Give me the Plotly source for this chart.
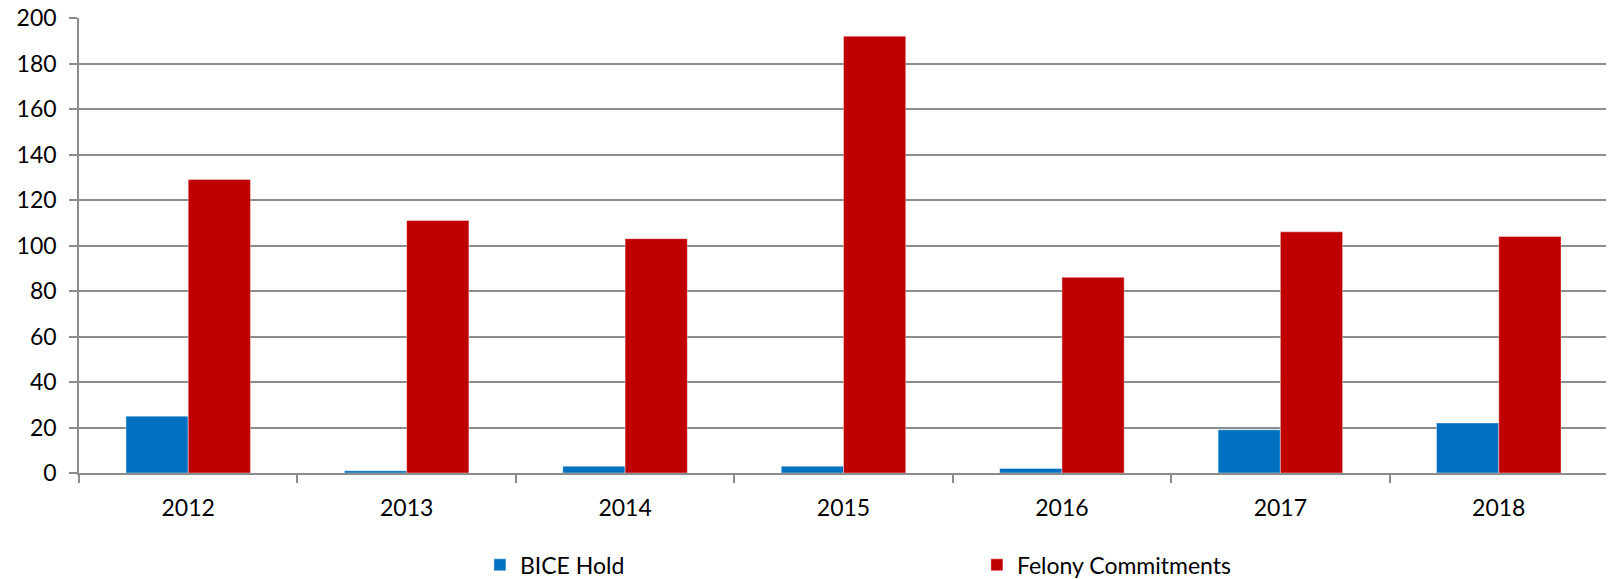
import plotly.graph_objects as go

years = ["2012", "2013", "2014", "2015", "2016", "2017", "2018"]
bice_hold = [25, 1, 3, 3, 2, 19, 22]
felony_commitments = [129, 111, 103, 192, 86, 106, 104]

fig = go.Figure()

fig.add_trace(
    go.Bar(
        x=years,
        y=bice_hold,
        name="BICE Hold",
        marker_color="#0070C0",
        marker_line=dict(color="rgba(255,255,255,0.4)", width=1),
    )
)

fig.add_trace(
    go.Bar(
        x=years,
        y=felony_commitments,
        name="Felony Commitments",
        marker_color="#C00000",
        marker_line=dict(color="rgba(255,255,255,0.4)", width=1),
    )
)

grid = "#8C8C8C"

# page body has an 8px margin, so the figure is sized a bit smaller
fig.update_layout(
    width=1606,
    height=571,
    template="plotly_white",
    barmode="group",
    bargap=0.43,
    bargroupgap=0,
    font=dict(family="Lato", size=23, color="#000000"),
    margin=dict(l=71, r=6, t=10, b=106, autoexpand=False),
    plot_bgcolor="white",
    paper_bgcolor="white",
    legend=dict(
        orientation="h",
        x=0.2622,
        xanchor="left",
        y=-0.202,
        yanchor="middle",
        itemwidth=30,
        entrywidth=452,
        entrywidthmode="pixels",
        font=dict(size=23),
    ),
)

fig.update_xaxes(
    type="category",
    tickson="boundaries",
    ticks="outside",
    ticklen=8,
    tickcolor=grid,
    tickwidth=1.5,
    showline=True,
    linecolor=grid,
    linewidth=1.5,
    showgrid=False,
    ticklabelstandoff=14,
)

fig.update_yaxes(
    range=[0, 200],
    dtick=20,
    ticks="outside",
    ticklen=8,
    tickcolor=grid,
    tickwidth=1.5,
    showline=True,
    linecolor=grid,
    linewidth=1.5,
    showgrid=True,
    gridcolor=grid,
    gridwidth=1.5,
    zeroline=False,
    ticklabelstandoff=8,
    ticklabeloverflow="allow",
)

fig.write_html("out.html")
